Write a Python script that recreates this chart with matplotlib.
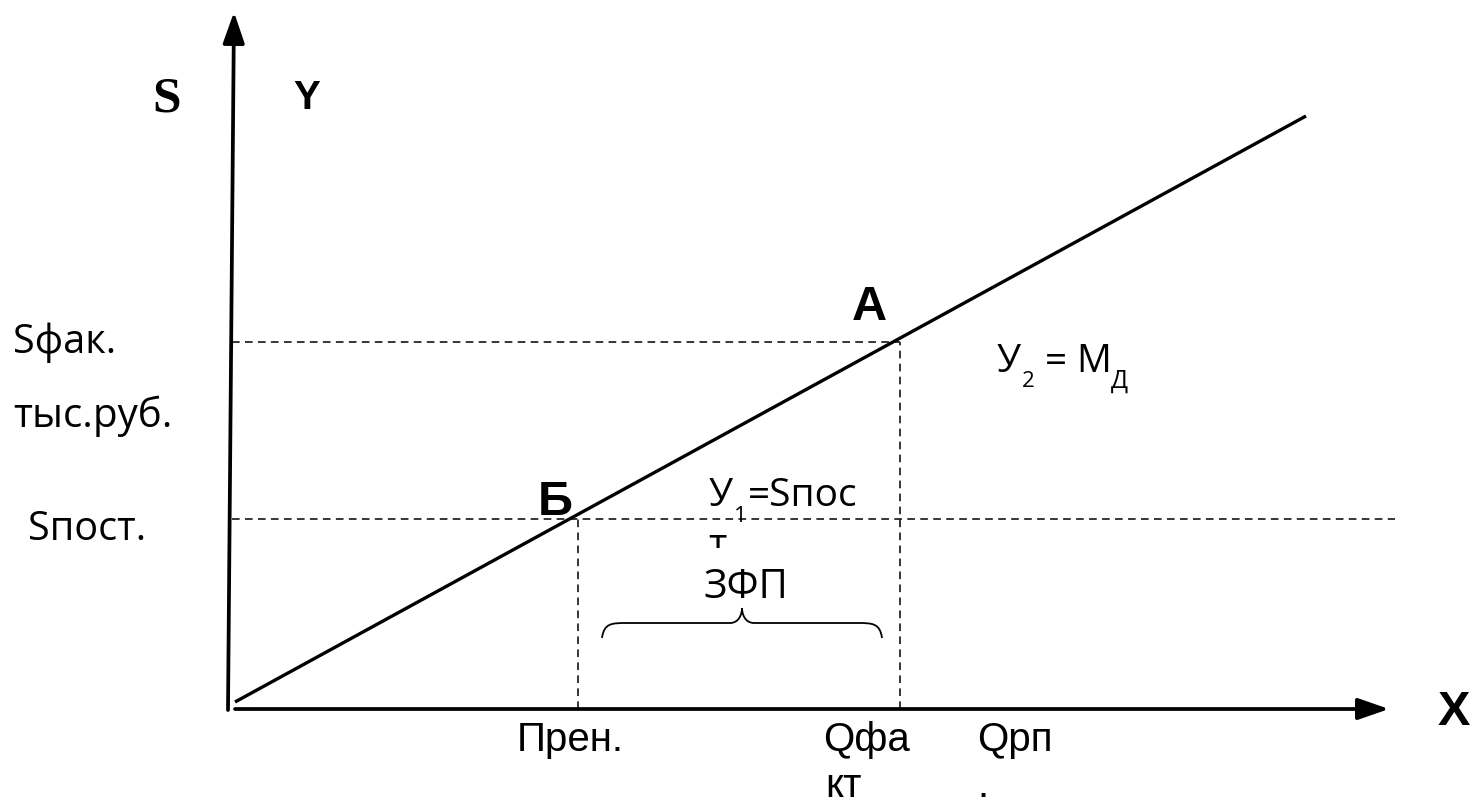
import numpy as np
import matplotlib
matplotlib.use('Agg')
import matplotlib.pyplot as plt
from matplotlib.path import Path
from matplotlib.patches import PathPatch, FancyArrowPatch
from matplotlib.transforms import Bbox, TransformedBbox

# --- Datos del gráfico (unidades del diagrama, origen en el cruce de ejes) ---
Q_LINEA = [3, 1074]          # recta de ingresos (marginal)
S_LINEA = [7, 593]
Q_UMBRAL = 346               # Прен. (punto Б)
Q_FACT = 668                 # Qфакт (punto А)
S_POST = 190                 # Sпост.
S_FACT = 367                 # Sфак.
Q_FIN_SPOST = 1163           # fin de la línea discontinua de Sпост.
Q_EJE_X = [3, 1157]
Q_EJE_Y = [-4, 2]
S_EJE_Y = [-1, 697]
LLAVE = dict(q0=370, q1=650, s_base=71, s_med=86, s_punta=101)

ETIQ_IZQ = ['Sфак.', 'тыс.руб.', 'Sпост.']
ETIQ_ABAJO = ['Прен.', 'Qфа', 'кт', 'Qрп', '.']

X0, Y0 = 232, 709  # solo para pasar de píxeles de la referencia a datos


def px(x, y):
    return x - X0, Y0 - y


fig = plt.figure(figsize=(14.72, 8.05), dpi=100)
ax = fig.add_axes([0, 0, 1, 1])
ax.set_xlim(-X0, 1472 - X0)
ax.set_ylim(Y0 - 805, Y0)
ax.axis('off')

# Ejes con flecha
def flecha(p0, p1):
    a = FancyArrowPatch(p0, p1, arrowstyle='-|>,head_length=0.95,head_width=0.33',
                        mutation_scale=20, lw=2.7, color='black',
                        shrinkA=0, shrinkB=0)
    ax.add_patch(a)

flecha((Q_EJE_Y[0], S_EJE_Y[0]), (Q_EJE_Y[1], S_EJE_Y[1]))
flecha((Q_EJE_X[0], 0), (Q_EJE_X[1], 0))

# Recta principal
ax.plot(Q_LINEA, S_LINEA, color='black', lw=2.4, solid_capstyle='butt')

# Líneas discontinuas
estilo = dict(color='black', lw=1.1, linestyle=(0, (5, 3.5)))
ax.plot([0, Q_FACT], [S_FACT, S_FACT], **estilo)
ax.plot([0, Q_FIN_SPOST], [S_POST, S_POST], **estilo)
ax.plot([Q_UMBRAL, Q_UMBRAL], [0, S_POST], **estilo)
ax.plot([Q_FACT, Q_FACT], [0, S_FACT], **estilo)

# Llave sobre la zona de seguridad financiera
q0, q1 = LLAVE['q0'], LLAVE['q1']
sb, sm, sp = LLAVE['s_base'], LLAVE['s_med'], LLAVE['s_punta']
qc = (q0 + q1) / 2
verts = [(q0, sb), (q0 + 2, sm), (q0 + 10, sm), (q0 + 25, sm),
         (qc - 25, sm), (qc - 25, sm), (qc - 12, sm),
         (qc - 3, sm), (qc, sp - 6), (qc, sp),
         (qc, sp - 6), (qc + 3, sm), (qc + 12, sm),
         (qc + 25, sm), (qc + 25, sm), (q1 - 25, sm),
         (q1 - 10, sm), (q1 - 2, sm), (q1, sb)]
codes = [Path.MOVETO] + [Path.CURVE4] * (len(verts) - 1)
ax.add_patch(PathPatch(Path(verts, codes), fill=False, lw=1.3, color='black'))

# Textos
open_sans = ['Open Sans', 'DejaVu Sans']
arial = ['Liberation Sans', 'DejaVu Sans']


def txt(x, y, s, size, family=open_sans, weight='normal'):
    return ax.text(*px(x, y), s, fontsize=size, family=family, weight=weight,
                   ha='left', va='baseline', color='black')


txt(152, 111, 'S', 37, family=['Liberation Serif'], weight='bold')
txt(293, 109, 'Y', 29, family=arial, weight='bold')

txt(13, 353, ETIQ_IZQ[0], 28.5)
txt(13, 427, ETIQ_IZQ[1], 29)
txt(28, 540, ETIQ_IZQ[2], 28.5)

txt(852, 320, 'А', 35, family=arial, weight='bold')
txt(538, 515, 'Б', 35, family=arial, weight='bold')

txt(709, 506, 'У', 28)
txt(734, 522, '1', 16)
txt(748, 506, '=Sпос', 28)
t = txt(708, 556, 'т', 28)
t.set_clip_box(TransformedBbox(Bbox([px(690, 548), px(740, 520)]), ax.transData))
t.set_clip_on(True)
txt(703, 598, 'ЗФП', 29)

txt(997, 372, 'У', 28)
txt(1022, 387, '2', 16)
txt(1045, 372, '=', 28)
txt(1076, 372, 'М', 28)
txt(1111, 388, 'Д', 18)

txt(517, 751, ETIQ_ABAJO[0], 29, family=arial)
txt(823, 751, ETIQ_ABAJO[1], 29, family=arial)
txt(825, 797, ETIQ_ABAJO[2], 29, family=arial)
txt(977, 751, ETIQ_ABAJO[3], 29, family=arial)
txt(977, 797, ETIQ_ABAJO[4], 29, family=arial)
txt(1438, 725, 'X', 35, family=arial, weight='bold')

fig.savefig('out.png', dpi=100, facecolor='white')
